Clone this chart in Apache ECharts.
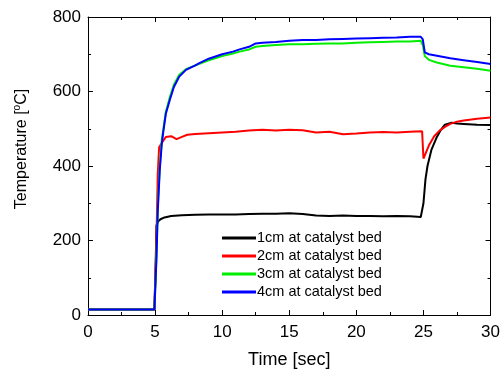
<!DOCTYPE html>
<html>
<head>
<meta charset="utf-8">
<script src="https://cdn.jsdelivr.net/npm/echarts@6/dist/echarts.min.js"></script>
<style>
  html, body { margin: 0; padding: 0; background: #fff; }
  #chart { width: 503px; height: 374px; }
</style>
</head>
<body>
<div id="chart"></div>
<script>
// Thermocouple readings along the catalyst bed
const t1 = [0, 4.95, 5.0, 5.05, 5.1, 5.2, 5.4, 5.7, 6.2, 7, 8, 9, 10, 11, 12, 13, 14, 15, 16, 17, 18, 19, 20, 21, 22, 23, 24, 24.8, 24.9, 25.0, 25.15, 25.3, 25.6, 26, 26.3, 26.6, 27.1, 27.5, 28, 29, 30];
const v1 = [15, 15, 15, 150, 240, 250, 257, 262, 266, 268, 269, 270, 270, 270, 271, 272, 272, 273, 271, 267, 266, 267, 266, 266, 265, 266, 265, 263, 264, 300, 364, 400, 444, 478, 497, 511, 516, 514, 513, 511, 510];

const t2 = [0, 4.95, 5.0, 5.1, 5.2, 5.3, 5.5, 5.8, 6.2, 6.6, 7.0, 7.4, 8, 9, 10, 11, 12, 13, 14, 15, 16, 17, 18, 19, 20, 21, 22, 23, 24, 24.9, 25.0, 25.1, 25.4, 25.8, 26.2, 26.6, 27, 27.5, 28, 29, 30];
const v2 = [15, 15, 20, 200, 380, 450, 462, 478, 480, 472, 478, 484, 486, 488, 490, 492, 495, 497, 495, 497, 496, 490, 492, 485, 487, 490, 491, 490, 492, 493, 420, 425, 455, 480, 495, 505, 513, 519, 522, 527, 530];

const t3 = [0, 4.95, 5.0, 5.1, 5.2, 5.35, 5.5, 5.6, 5.8, 6.1, 6.4, 6.8, 7.3, 8, 8.3, 9, 10, 10.8, 11.3, 12, 12.5, 13, 14, 15, 16, 17, 18, 19, 20, 21, 22, 23, 24, 24.8, 24.95, 25.1, 25.4, 26, 27, 28, 29, 30];
const v3 = [15, 15, 20, 160, 290, 400, 470, 495, 545, 585, 618, 645, 660, 670, 674, 684, 695, 702, 707, 713, 720, 722, 725, 727, 727, 728, 729, 729, 731, 732, 733, 734, 734, 736, 725, 695, 685, 678, 669, 665, 661, 656];

const t4 = [0, 4.95, 5.0, 5.1, 5.2, 5.35, 5.5, 5.6, 5.8, 6.1, 6.4, 6.8, 7.3, 8, 8.3, 9, 10, 10.8, 11.3, 12, 12.5, 13, 14, 15, 16, 17, 18, 19, 20, 21, 22, 23, 24, 24.8, 24.95, 25.1, 25.4, 26, 27, 28, 29, 30];
const v4 = [15, 15, 20, 150, 280, 390, 460, 489, 540, 578, 612, 640, 658, 670, 676, 688, 700, 707, 713, 720, 729, 731, 733, 736, 738, 738, 740, 741, 742, 743, 744, 745, 747, 747, 740, 705, 700, 696, 689, 684, 679, 674];

const seriesNames = ['1cm at catalyst bed', '2cm at catalyst bed', '3cm at catalyst bed', '4cm at catalyst bed'];
const seriesColors = ['#000000', '#ff0000', '#00ee00', '#0000ff'];
const xTicks = [0, 5, 10, 15, 20, 25, 30];
const yTicks = [0, 200, 400, 600, 800];

const font = 'Liberation Sans, Arial, sans-serif';

const pair = (xs, ys) => xs.map((x, i) => [x, ys[i]]);
const allData = [pair(t1, v1), pair(t2, v2), pair(t3, v3), pair(t4, v4)];

const axisCommon = {
  axisLine: { show: true, onZero: false, lineStyle: { color: '#000', width: 1 } },
  axisTick: { show: true, inside: true, length: 5, lineStyle: { color: '#000' } },
  minorTick: { show: true, splitNumber: 2, length: 3, lineStyle: { color: '#000' } },
  splitLine: { show: false },
  minorSplitLine: { show: false }
};

const xMin = xTicks[0], xMax = xTicks[xTicks.length - 1], xStep = xTicks[1] - xTicks[0];
const yMin = yTicks[0], yMax = yTicks[yTicks.length - 1], yStep = yTicks[1] - yTicks[0];

const chart = echarts.init(document.getElementById('chart'), null, { renderer: 'canvas' });

chart.setOption({
  animation: false,
  backgroundColor: '#fff',
  textStyle: { fontFamily: font },
  grid: { left: 88, right: 11, top: 17, bottom: 58 },
  legend: {
    orient: 'vertical',
    left: 222,
    top: 229,
    padding: 0,
    itemGap: 0,
    itemWidth: 34,
    itemHeight: 3,
    icon: 'rect',
    data: seriesNames,
    textStyle: { fontSize: 14.5, lineHeight: 18, color: '#000', fontFamily: font, padding: [0, 0, 0, -4] }
  },
  xAxis: [
    Object.assign({}, axisCommon, {
      type: 'value', position: 'bottom', min: xMin, max: xMax, interval: xStep,
      axisLabel: { fontSize: 17, color: '#000', margin: 9, fontFamily: font },
      name: 'Time [sec]', nameLocation: 'middle', nameGap: 36,
      nameTextStyle: { fontSize: 18, color: '#000', fontFamily: font }
    }),
    Object.assign({}, axisCommon, {
      type: 'value', position: 'top', min: xMin, max: xMax, interval: xStep,
      axisLabel: { show: false }
    })
  ],
  yAxis: [
    Object.assign({}, axisCommon, {
      type: 'value', position: 'left', min: yMin, max: yMax, interval: yStep,
      axisLabel: { fontSize: 17, color: '#000', margin: 7, fontFamily: font },
      name: 'Temperature [{sup|o}C]', nameLocation: 'middle', nameGap: 56, nameRotate: 90,
      nameTextStyle: {
        fontSize: 16, color: '#000', fontFamily: font, padding: [0, 0, 0, 34],
        rich: { sup: { fontSize: 10, fontFamily: font, color: '#000', padding: [0, 0, 10, 0] } }
      }
    }),
    Object.assign({}, axisCommon, {
      type: 'value', position: 'right', min: yMin, max: yMax, interval: yStep,
      axisLabel: { show: false }
    })
  ],
  series: allData.map((d, i) => ({
    name: seriesNames[i],
    type: 'line',
    data: d,
    xAxisIndex: 0,
    yAxisIndex: 0,
    showSymbol: false,
    symbol: 'none',
    color: seriesColors[i],
    lineStyle: { color: seriesColors[i], width: 2 }
  }))
});
</script>
</body>
</html>
